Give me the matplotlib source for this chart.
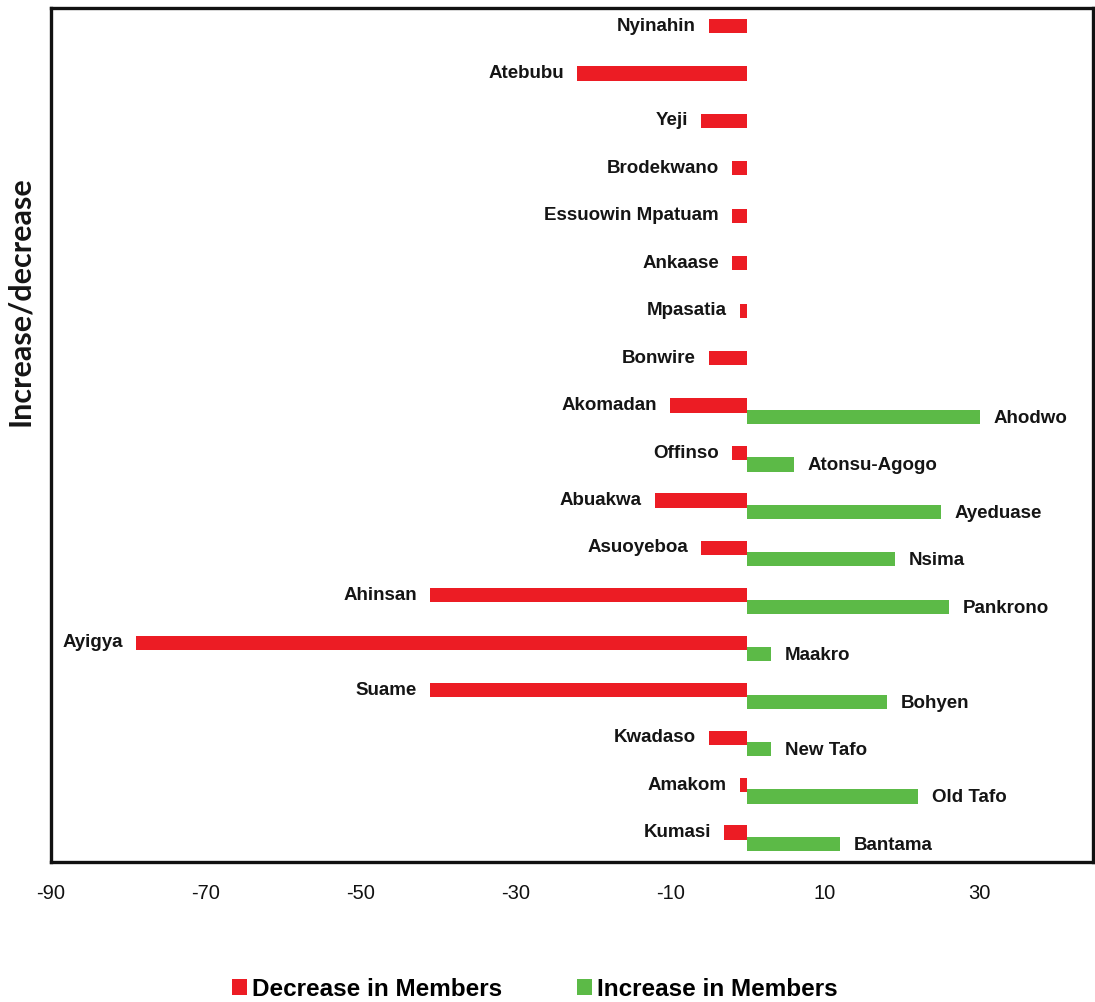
import matplotlib
matplotlib.use("Agg")
import matplotlib.pyplot as plt
from matplotlib.patches import Patch
import numpy as np

# Data (top to bottom as shown)
dec_names = ["Nyinahin", "Atebubu", "Yeji", "Brodekwano", "Essuowin Mpatuam",
             "Ankaase", "Mpasatia", "Bonwire", "Akomadan", "Offinso", "Abuakwa",
             "Asuoyeboa", "Ahinsan", "Ayigya", "Suame", "Kwadaso", "Amakom", "Kumasi"]
dec_vals = [-5, -22, -6, -2, -2, -2, -1, -5, -10, -2, -12, -6, -41, -79, -41, -5, -1, -3]

inc_names = ["Ahodwo", "Atonsu-Agogo", "Ayeduase", "Nsima", "Pankrono",
             "Maakro", "Bohyen", "New Tafo", "Old Tafo", "Bantama"]
inc_vals = [30, 6, 25, 19, 26, 3, 18, 3, 22, 12]

xticks = [-90, -70, -50, -30, -10, 10, 30]

RED = "#ec1c24"
GREEN = "#5cba47"
FONT = "Liberation Sans"

fig = plt.figure(figsize=(10.95, 10.02), dpi=100)
ax = fig.add_axes([51/1095, 1-862/1002, (1093-51)/1095, (862-8)/1002])

n = len(dec_names)
rows = np.arange(n)[::-1]  # top row has highest y
off = 0.12
h = 0.30

ax.barh(rows + off, dec_vals, height=h, color=RED, linewidth=0)
inc_rows = rows[n - len(inc_names):]
ax.barh(inc_rows - off, inc_vals, height=h, color=GREEN, linewidth=0)

for y, v, name in zip(rows, dec_vals, dec_names):
    ax.annotate(name, (v, y + off), xytext=(-9.5, 0), textcoords="offset points",
                ha="right", va="center", fontsize=13.5, fontweight="bold",
                family=FONT, color="#151515")
for y, v, name in zip(inc_rows, inc_vals, inc_names):
    ax.annotate(name, (v, y - off), xytext=(10, -1), textcoords="offset points",
                ha="left", va="center", fontsize=13.5, fontweight="bold",
                family=FONT, color="#151515")

ax.set_xlim(-90, 44.65)
ax.set_ylim(-0.5, n - 0.5)
ax.set_xticks(xticks)
ax.set_xticklabels([str(t) for t in xticks], family=FONT, fontsize=14.5, color="#111111")
ax.tick_params(axis="x", length=0, pad=16)
ax.set_yticks([])
for sp in ax.spines.values():
    sp.set_linewidth(2.4)
    sp.set_color("#111111")

fig.text(20/1095, 1-301/1002, "Increase/decrease", rotation=90, ha="center", va="center",
         fontsize=22, fontweight="bold", family="Lato", color="#151515")

handles = [Patch(facecolor=RED, edgecolor="none"), Patch(facecolor=GREEN, edgecolor="none")]
fig.legend(handles, ["Decrease in Members", "Increase in Members"], ncol=2,
           loc="center", bbox_to_anchor=(535/1095, 1-989/1002), frameon=False,
           prop={"family": FONT, "weight": "bold", "size": 17.5},
           handlelength=0.62, handleheight=0.62, handletextpad=0.2,
           columnspacing=3.1, borderpad=0, borderaxespad=0)

fig.savefig("out.png", dpi=100)
